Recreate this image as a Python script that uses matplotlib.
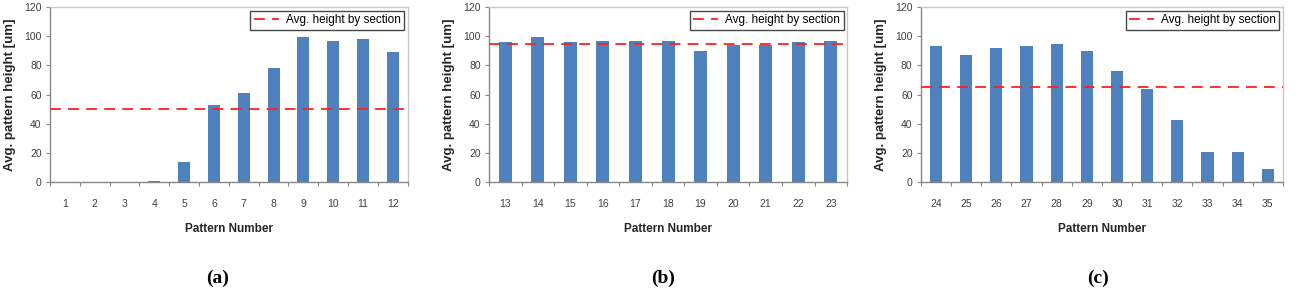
import matplotlib
matplotlib.use("Agg")
import matplotlib.pyplot as plt
import numpy as np

plt.rcParams['font.family'] = ['Liberation Sans', 'DejaVu Sans']

# section (a)
patterns_a = list(range(1, 13))
heights_a = [0, 0, 0, 1, 14, 52.5, 61, 78, 99.5, 97, 98, 89]
avg_a = 50

# section (b)
patterns_b = list(range(13, 24))
heights_b = [96, 99.5, 96, 97, 97, 97, 89.5, 93.7, 93.7, 96, 97]
avg_b = 94.5

# section (c)
patterns_c = list(range(24, 36))
heights_c = [93.3, 87, 92, 93, 94.5, 89.5, 76, 64, 42.5, 20.8, 20.8, 8.8]
avg_c = 65

captions = ['(a)', '(b)', '(c)']

bar_color = '#4F81BD'
axis_gray = '#878787'
text_gray = '#404040'

fig = plt.figure(figsize=(12.96, 2.9), dpi=100)

# axes boxes in figure fractions [left, bottom, width, height]
boxes = [[0.0386, 0.372, 0.276, 0.604],
         [0.3773, 0.372, 0.2763, 0.604],
         [0.7106, 0.372, 0.2793, 0.604]]
caption_x = [0.168, 0.5116, 0.847]

sections = [(patterns_a, heights_a, avg_a),
            (patterns_b, heights_b, avg_b),
            (patterns_c, heights_c, avg_c)]

for i, (pats, hts, avg) in enumerate(sections):
    ax = fig.add_axes(boxes[i])
    x = np.arange(len(pats))
    ax.bar(x, hts, width=0.4, color=bar_color, zorder=2)
    ax.axhline(avg, color='#FF2020', linestyle=(0, (6, 4)), linewidth=1.3,
               zorder=3, label='Avg. height by section')
    ax.set_xlim(-0.5, len(pats) - 0.5)
    ax.set_ylim(0, 120)
    ax.set_yticks(range(0, 121, 20))
    ax.set_xticks(x)
    ax.set_xticklabels([str(p) for p in pats])
    # category separators on the x axis
    ax.set_xticks(np.arange(len(pats) + 1) - 0.5, minor=True)
    ax.tick_params(axis='x', which='major', length=0, pad=12.5,
                   labelsize=7.5, labelcolor=text_gray)
    ax.tick_params(axis='x', which='minor', length=3, color=axis_gray,
                   width=0.8)
    ax.tick_params(axis='y', length=3, color=axis_gray, width=0.8,
                   labelsize=7.5, labelcolor=text_gray, pad=3)
    for side in ['left', 'bottom']:
        ax.spines[side].set_color(axis_gray)
        ax.spines[side].set_linewidth(1.0)
    for side in ['top', 'right']:
        ax.spines[side].set_color('#C8C8C8')
        ax.spines[side].set_linewidth(1.0)
    ax.set_xlabel('Pattern Number', fontsize=8.5, fontweight='bold',
                  color='#262626', labelpad=10)
    ax.set_ylabel('Avg. pattern height [um]', fontsize=9.5,
                  fontweight='bold', color='#262626', labelpad=6)
    leg = ax.legend(loc='upper right', fontsize=8.5, frameon=True,
                    fancybox=False, borderaxespad=0.3, handlelength=2.1,
                    borderpad=0.3, handletextpad=0.6)
    leg.get_frame().set_edgecolor('#1a1a1a')
    leg.get_frame().set_linewidth(1.0)
    fig.text(caption_x[i], 0.04, captions[i], ha='center', va='center',
             fontsize=14, fontweight='bold', family='Liberation Serif')

fig.savefig('out.png', dpi=100)
